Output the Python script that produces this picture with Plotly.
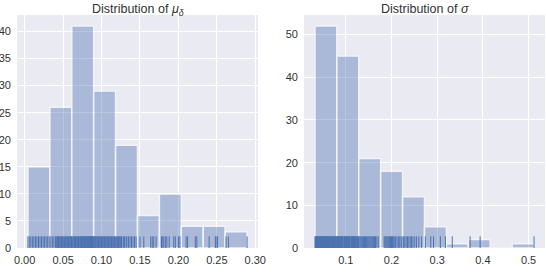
import numpy as np
import plotly.graph_objects as go

# ---- data ----
mu_delta = [
    0.0043, 0.006, 0.008, 0.010, 0.012, 0.014, 0.016, 0.018, 0.020, 0.022, 0.024, 0.026, 0.028, 0.030, 0.032,
    0.034, 0.036, 0.038, 0.040, 0.041, 0.042, 0.043, 0.044, 0.045, 0.046, 0.047, 0.048, 0.049, 0.050, 0.051,
    0.052, 0.053, 0.054, 0.055, 0.056, 0.057, 0.058, 0.059, 0.060, 0.0605, 0.061,
    0.062, 0.063, 0.064, 0.065, 0.066, 0.066, 0.067, 0.068, 0.069, 0.070, 0.070, 0.071, 0.072, 0.073, 0.073,
    0.074, 0.075, 0.076, 0.076, 0.077, 0.078, 0.078, 0.079, 0.080, 0.080, 0.081, 0.082, 0.082, 0.083, 0.084,
    0.084, 0.085, 0.085, 0.086, 0.086, 0.087, 0.087, 0.088, 0.088, 0.089, 0.089,
    0.090, 0.091, 0.092, 0.093, 0.094, 0.095, 0.096, 0.097, 0.098, 0.099, 0.100, 0.101, 0.102, 0.103, 0.104,
    0.105, 0.106, 0.107, 0.108, 0.109, 0.110, 0.111, 0.112, 0.113, 0.114, 0.115, 0.116, 0.117, 0.118,
    0.119, 0.120, 0.121, 0.122, 0.123, 0.124, 0.125, 0.126, 0.128, 0.129, 0.130, 0.132, 0.133, 0.135, 0.137,
    0.139, 0.141, 0.143, 0.145,
    0.150, 0.155, 0.164, 0.166, 0.168, 0.171,
    0.178, 0.179, 0.181, 0.183, 0.185, 0.188, 0.194, 0.196, 0.200, 0.202,
    0.210, 0.212, 0.222, 0.224,
    0.240, 0.248, 0.249, 0.251,
    0.262, 0.265, 0.2893,
]

sigma = [
    0.0325, 0.034, 0.035, 0.036, 0.036, 0.037, 0.038, 0.039, 0.040, 0.041, 0.042, 0.043, 0.044, 0.044, 0.045,
    0.046, 0.047, 0.048, 0.049, 0.050, 0.051, 0.052, 0.052, 0.053, 0.054, 0.055, 0.056, 0.057, 0.058, 0.059,
    0.060, 0.061, 0.061, 0.062, 0.063, 0.064, 0.065, 0.066, 0.067, 0.068, 0.069, 0.070, 0.071, 0.072, 0.073,
    0.074, 0.075, 0.076, 0.077, 0.078, 0.079, 0.080,
    0.081, 0.082, 0.083, 0.084, 0.085, 0.086, 0.087, 0.088, 0.089, 0.090, 0.091, 0.092, 0.093, 0.094, 0.096,
    0.097, 0.098, 0.099, 0.100, 0.101, 0.102, 0.103, 0.104, 0.105, 0.106, 0.107, 0.108, 0.109, 0.111, 0.112,
    0.113, 0.114, 0.115, 0.116, 0.117, 0.118, 0.119, 0.120, 0.121, 0.122, 0.123, 0.125, 0.126, 0.127, 0.128,
    0.129, 0.131, 0.133, 0.135, 0.137, 0.139, 0.141, 0.143, 0.145, 0.147, 0.149, 0.151, 0.153, 0.155, 0.157,
    0.159, 0.161, 0.163, 0.165, 0.168, 0.171,
    0.184, 0.186, 0.188, 0.190, 0.192, 0.194, 0.196, 0.198, 0.200, 0.202, 0.204, 0.206, 0.209, 0.212, 0.215,
    0.218, 0.221, 0.223,
    0.226, 0.229, 0.232, 0.235, 0.238, 0.241, 0.244, 0.247, 0.251, 0.255, 0.260, 0.266,
    0.274, 0.286, 0.292, 0.307, 0.318,
    0.333,
    0.372, 0.394,
    0.512,
]

titles = ["Distribution of <i>μ</i><sub><i>δ</i></sub>", "Distribution of <i>σ</i>"]
n_bins = 10

# ---- style ----
BLUE = "#4C72B0"
BG = "#EAEAF2"
TXT = "#333333"
FONT = "Liberation Sans, Arial, sans-serif"
W, H = 546, 272

panels = [
    dict(data=mu_delta, xdom=(17, 258), dtick=0.05, fmt=".2f", ydtick=5),
    dict(data=sigma, xdom=(304, 545), dtick=0.1, fmt=".1f", ydtick=10),
]
ytop_px, ybot_px = 15, 248

fig = go.Figure()
layout = dict(
    width=W, height=H, margin=dict(l=0, r=0, t=0, b=0),
    paper_bgcolor="white", plot_bgcolor=BG, showlegend=False,
    font=dict(family=FONT, color=TXT, size=11),
    annotations=[],
)

for i, p in enumerate(panels):
    sfx = "" if i == 0 else str(i + 1)
    vals = np.array(p["data"], dtype=float)
    counts, edges = np.histogram(vals, bins=n_bins)
    centers = (edges[:-1] + edges[1:]) / 2
    widths = np.diff(edges)

    span = vals.max() - vals.min()
    xr = [vals.min() - 0.05 * span, vals.max() + 0.05 * span]
    ymax = counts.max() * 1.05
    rug_h = 0.05 * ymax

    fig.add_trace(go.Bar(
        x=centers, y=counts, width=widths,
        marker=dict(color=BLUE, line=dict(color="white", width=1.5)),
        opacity=0.4, xaxis="x" + sfx, yaxis="y" + sfx, hoverinfo="skip",
    ))

    rx, ry = [], []
    for v in vals:
        rx += [v, v, None]
        ry += [0, rug_h, None]
    fig.add_trace(go.Scatter(
        x=rx, y=ry, mode="lines", line=dict(color=BLUE, width=1),
        xaxis="x" + sfx, yaxis="y" + sfx, hoverinfo="skip",
    ))

    xd = [p["xdom"][0] / W, p["xdom"][1] / W]
    yd = [(H - ybot_px) / H, (H - ytop_px) / H]
    layout["xaxis" + sfx] = dict(
        domain=xd, range=xr, anchor="y" + sfx, showgrid=True, gridcolor="white", gridwidth=1,
        zeroline=False, showline=False, ticks="", tickmode="linear", tick0=0,
        dtick=p["dtick"], tickformat=p["fmt"], automargin=False, ticklabelstandoff=4,
        tickfont=dict(size=11, color=TXT, family=FONT),
    )
    layout["yaxis" + sfx] = dict(
        domain=yd, range=[0, ymax], anchor="x" + sfx, showgrid=True, gridcolor="white", gridwidth=1,
        zeroline=False, showline=False, ticks="", tickmode="linear", tick0=0, dtick=p["ydtick"],
        automargin=False, ticklabelstandoff=5, tickfont=dict(size=11, color=TXT, family=FONT),
    )
    layout["annotations"].append(dict(
        text=titles[i], xref="paper", yref="paper",
        x=(xd[0] + xd[1]) / 2, y=1, xanchor="center", yanchor="top",
        showarrow=False, font=dict(size=12.5, color=TXT, family=FONT),
    ))

fig.update_layout(**layout)
fig.write_html("out.html")
